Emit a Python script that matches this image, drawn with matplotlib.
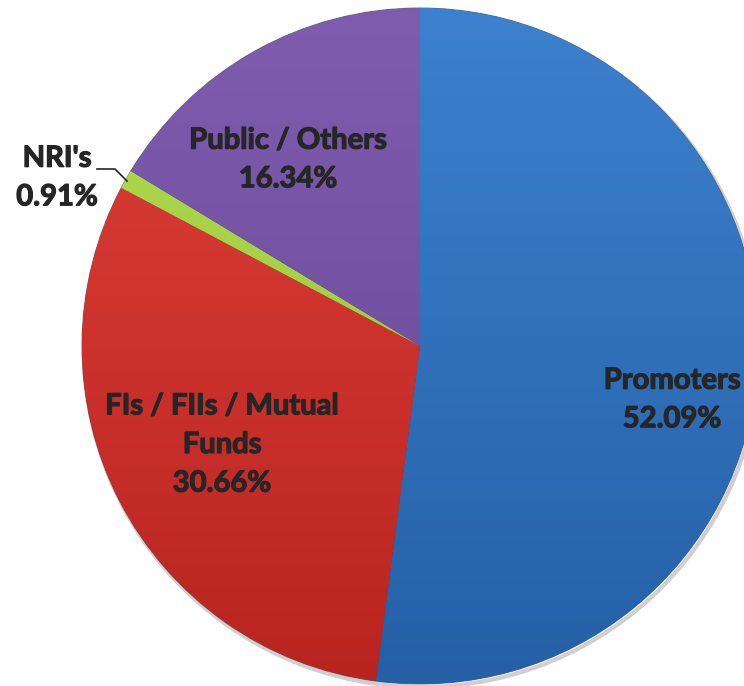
import numpy as np
import matplotlib
matplotlib.use("Agg")
from matplotlib import pyplot as plt
from matplotlib import patheffects as pe
from matplotlib.colors import to_rgb

# shareholding pattern
labels = ["Promoters", "FIs / FIIs / Mutual\nFunds", "NRI's", "Public / Others"]
shares = [52.09, 30.66, 0.91, 16.34]
top_colors = ["#3C81CF", "#E0403B", "#B5DD55", "#7E5CAE"]
bot_colors = ["#2560A6", "#B8241F", "#8CBF30", "#684696"]

plt.rcParams['font.family'] = ['Lato', 'DejaVu Sans']

fig = plt.figure(figsize=(7.44, 6.86), dpi=100)
ax = fig.add_axes([0, 0, 1, 1])

cx, cy, r = 420, 340, 338
wedges, _ = ax.pie(shares, startangle=90, counterclock=False,
                   colors=top_colors, radius=r, center=(cx, cy),
                   wedgeprops=dict(linewidth=0.8, edgecolor="#22222288"))

# vertical gradient inside each wedge, clipped to it
for w, c1, c2 in zip(wedges, top_colors, bot_colors):
    a, b = np.array(to_rgb(c1)), np.array(to_rgb(c2))
    t = np.linspace(0, 1, 256)[:, None]
    grad = (a * (1 - t) + b * t)[:, None, :].repeat(2, axis=1)
    im = ax.imshow(grad, extent=[cx - r, cx + r, cy - r, cy + r],
                   origin="upper", aspect="auto", zorder=w.get_zorder() + 0.1)
    im.set_clip_path(w)

# thin shadow ring at the rim
shadow = plt.Circle((cx + 2, cy - 3), r, fill=False, lw=3, ec="#00000030", zorder=0)
ax.add_patch(shadow)

txt = dict(fontsize=21, fontweight="bold", color="#262626", ha="center",
           va="center", zorder=5, linespacing=1.6,
           path_effects=[pe.withStroke(linewidth=0.9, foreground="#262626")])
ax.text(672, 686 - 400, labels[0] + "\n%.2f%%" % shares[0], **txt)
ax.text(222, 686 - 445, labels[1] + "\n%.2f%%" % shares[1], **txt)
ax.text(288, 686 - 160, labels[3] + "\n%.2f%%" % shares[3], **txt)
ax.text(57, 686 - 178, labels[2] + "\n%.2f%%" % shares[2], **txt)
ax.plot([97, 115, 127], [686 - 169, 686 - 169, 686 - 181], color="#262626", lw=1.2, zorder=5)

ax.set_xlim(0, 744)
ax.set_ylim(0, 686)
ax.set_aspect("equal")
ax.axis("off")

fig.savefig("out.png", dpi=100)
